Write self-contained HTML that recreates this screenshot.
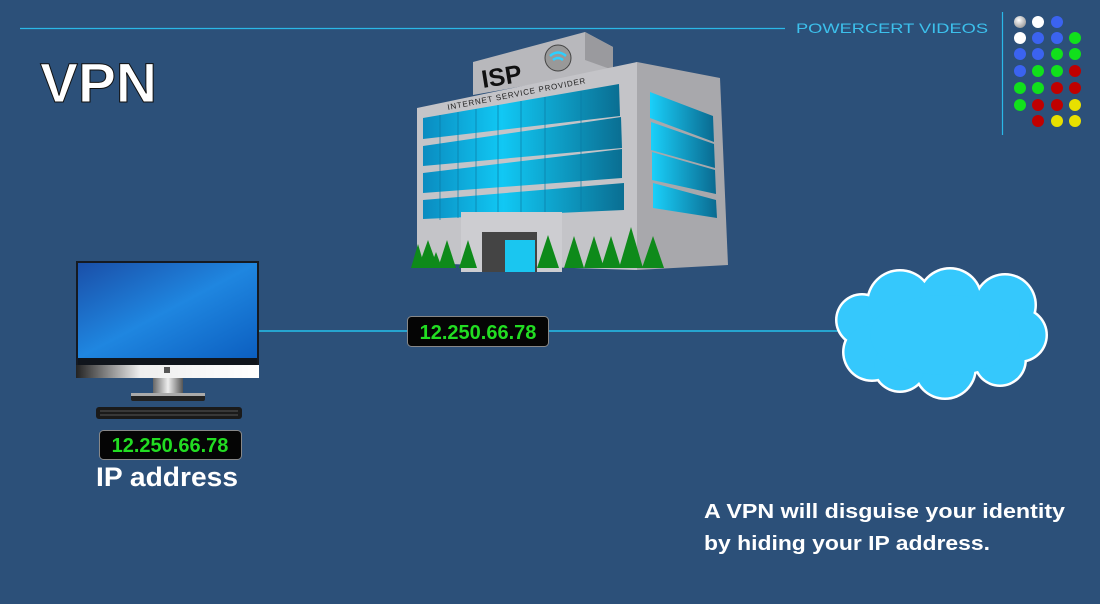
<!DOCTYPE html>
<html><head><meta charset="utf-8"><style>
html,body{margin:0;padding:0;background:#2c5079;}
svg{display:block;}
text{font-family:"Liberation Sans",Arial,sans-serif;}
</style></head><body>
<svg width="1100" height="604" viewBox="0 0 1100 604" xmlns="http://www.w3.org/2000/svg">
<defs>
<linearGradient id="scr" x1="0" y1="0" x2="1" y2="1"><stop offset="0" stop-color="#1a4fa8"/><stop offset="0.5" stop-color="#1f86e0"/><stop offset="1" stop-color="#0c5fc0"/></linearGradient>
<linearGradient id="chin" x1="0" y1="0" x2="1" y2="0"><stop offset="0" stop-color="#222"/><stop offset="0.35" stop-color="#eee"/><stop offset="1" stop-color="#fff"/></linearGradient>
<linearGradient id="win" x1="0" y1="0" x2="1" y2="0"><stop offset="0" stop-color="#0a8cc0"/><stop offset="0.4" stop-color="#11c8f4"/><stop offset="1" stop-color="#0a6e92"/></linearGradient>
<linearGradient id="winr" x1="0" y1="0" x2="1" y2="0"><stop offset="0" stop-color="#1ad0fa"/><stop offset="1" stop-color="#0a6a90"/></linearGradient>
<linearGradient id="neck" x1="0" y1="0" x2="1" y2="0"><stop offset="0" stop-color="#666"/><stop offset="0.5" stop-color="#eee"/><stop offset="1" stop-color="#555"/></linearGradient>
<radialGradient id="dg" cx="0.4" cy="0.35" r="0.7"><stop offset="0" stop-color="#fff"/><stop offset="1" stop-color="#999"/></radialGradient>
</defs>
<rect width="1100" height="604" fill="#2c5079"/>
<line x1="20" y1="28.5" x2="785" y2="28.5" stroke="#2ab8e8" stroke-width="1.2"/>
<text x="796" y="33" font-size="14" fill="#3cc0ec" textLength="192" lengthAdjust="spacingAndGlyphs">POWERCERT VIDEOS</text>
<line x1="1002.5" y1="12" x2="1002.5" y2="135" stroke="#2ab8e8" stroke-width="1.2"/>
<g>
<circle cx="1020" cy="22" r="6" fill="url(#dg)"/><circle cx="1038" cy="22" r="6" fill="#fff"/><circle cx="1057" cy="22" r="6" fill="#3b63f0"/>
<circle cx="1020" cy="38" r="6" fill="#fff"/><circle cx="1038" cy="38" r="6" fill="#3b63f0"/><circle cx="1057" cy="38" r="6" fill="#3b63f0"/><circle cx="1075" cy="38" r="6" fill="#11e01c"/>
<circle cx="1020" cy="54" r="6" fill="#3b63f0"/><circle cx="1038" cy="54" r="6" fill="#3b63f0"/><circle cx="1057" cy="54" r="6" fill="#11e01c"/><circle cx="1075" cy="54" r="6" fill="#11e01c"/>
<circle cx="1020" cy="71" r="6" fill="#3b63f0"/><circle cx="1038" cy="71" r="6" fill="#11e01c"/><circle cx="1057" cy="71" r="6" fill="#11e01c"/><circle cx="1075" cy="71" r="6" fill="#c00000"/>
<circle cx="1020" cy="88" r="6" fill="#11e01c"/><circle cx="1038" cy="88" r="6" fill="#11e01c"/><circle cx="1057" cy="88" r="6" fill="#c00000"/><circle cx="1075" cy="88" r="6" fill="#c00000"/>
<circle cx="1020" cy="105" r="6" fill="#11e01c"/><circle cx="1038" cy="105" r="6" fill="#c00000"/><circle cx="1057" cy="105" r="6" fill="#c00000"/><circle cx="1075" cy="105" r="6" fill="#e8e000"/>
<circle cx="1038" cy="121" r="6" fill="#c00000"/><circle cx="1057" cy="121" r="6" fill="#e8e000"/><circle cx="1075" cy="121" r="6" fill="#e8e000"/>
</g>
<text x="40" y="102" font-size="56" font-weight="bold" fill="#fff" stroke="#111" stroke-width="1" textLength="117" lengthAdjust="spacingAndGlyphs">VPN</text>

<!-- building -->
<polygon points="473,62 585,32 613,47 613,70 473,95" fill="#b8b8bc"/>
<polygon points="585,32 613,47 613,70 585,60" fill="#9a9a9e"/>
<text x="483" y="88" font-size="25" font-weight="bold" fill="#111" transform="rotate(-9 483 88)">ISP</text>
<circle cx="558" cy="58" r="13" fill="#999" stroke="#444" stroke-width="1"/>
<path d="M550 56 q8 -7 16 0 M553 60 q5 -4 10 0" stroke="#2dd0ff" stroke-width="2.5" fill="none"/>
<polygon points="417,108 637,62 637,270 417,263" fill="#c4c4c8"/>
<polygon points="637,62 720,78 728,265 637,270" fill="#a8a8ac"/>
<text x="448" y="110" font-size="8" fill="#222" transform="rotate(-11 448 110)" letter-spacing="0.8">INTERNET SERVICE PROVIDER</text>
<polygon points="423,118 619,84 620,116 423,139" fill="url(#win)"/>
<polygon points="423,146 621,117 622,148 423,166" fill="url(#win)"/>
<polygon points="423,173 622,149 622,178 423,193" fill="url(#win)"/>
<polygon points="423,200 624,183 624,210 423,219" fill="url(#win)"/>
<g stroke="#0a7aa4" stroke-width="1" opacity="0.7">
<line x1="440" y1="115" x2="440" y2="220"/><line x1="458" y1="112" x2="458" y2="218"/><line x1="476" y1="109" x2="476" y2="216"/><line x1="498" y1="105" x2="498" y2="215"/><line x1="521" y1="101" x2="521" y2="214"/><line x1="545" y1="97" x2="545" y2="212"/><line x1="581" y1="91" x2="581" y2="210"/>
</g>
<polygon points="650,92 713,116 714,142 650,118" fill="url(#winr)"/>
<polygon points="651,122 714,144 715,168 651,150" fill="url(#winr)"/>
<polygon points="652,152 715,170 716,194 652,180" fill="url(#winr)"/>
<polygon points="653,183 716,200 717,218 653,208" fill="url(#winr)"/>
<rect x="461" y="212" width="101" height="60" fill="#cdcdd1"/>
<rect x="482" y="232" width="55" height="40" fill="#444"/>
<rect x="505" y="240" width="30" height="32" fill="#1ac6f0"/>
<g fill="#0e8a1a">
<polygon points="418,244 411,268 425,268"/><polygon points="428,240 418,268 438,268"/><polygon points="447,240 438,268 456,268"/><polygon points="468,240 459,268 477,268"/>
<polygon points="436,252 430,268 442,268"/>
<polygon points="548,235 537,268 559,268"/><polygon points="574,236 564,268 584,268"/><polygon points="594,236 584,268 604,268"/><polygon points="611,236 601,268 621,268"/><polygon points="631,227 619,268 643,268"/><polygon points="653,236 642,268 664,268"/>
</g>

<line x1="259" y1="331" x2="840" y2="331" stroke="#25c0ec" stroke-width="1.5"/>
<rect x="407.5" y="316.5" width="141" height="30" rx="4" fill="#050505" stroke="#888" stroke-width="1"/>
<text x="478" y="339" font-size="20" font-weight="bold" fill="#22dd22" text-anchor="middle">12.250.66.78</text>

<rect x="76" y="261" width="183" height="117" fill="#151a22"/>
<rect x="78" y="263" width="179" height="95" fill="url(#scr)"/>
<rect x="78" y="358" width="179" height="7" fill="#10151c"/>
<rect x="76" y="365" width="183" height="13" fill="url(#chin)"/>
<rect x="164" y="367" width="6" height="6" fill="#555"/>
<rect x="153" y="378" width="30" height="16" fill="url(#neck)"/>
<rect x="131" y="393" width="74" height="8" rx="2" fill="#222"/>
<rect x="131" y="393" width="74" height="3" fill="#aaa"/>
<rect x="96" y="407" width="146" height="12" rx="3" fill="#1a1a1a"/>
<g stroke="#555" stroke-width="1"><line x1="100" y1="411" x2="238" y2="411"/><line x1="100" y1="415" x2="238" y2="415"/></g>
<rect x="99.5" y="430.5" width="142" height="29" rx="4" fill="#050505" stroke="#888" stroke-width="1"/>
<text x="170" y="452" font-size="20" font-weight="bold" fill="#22dd22" text-anchor="middle">12.250.66.78</text>
<text x="96" y="486" font-size="27" font-weight="bold" fill="#fff" textLength="142" lengthAdjust="spacingAndGlyphs">IP address</text>

<!-- cloud -->
<g fill="#fff">
<circle cx="862" cy="320" r="27"/><circle cx="872" cy="352" r="30"/><circle cx="900" cy="303" r="34"/><circle cx="950" cy="300" r="33"/><circle cx="1005" cy="305" r="32"/><circle cx="1020" cy="335" r="28"/><circle cx="1000" cy="360" r="27"/><circle cx="945" cy="368" r="32"/><circle cx="900" cy="365" r="28"/>
</g>
<g fill="#35c8fc">
<circle cx="862" cy="320" r="24.5"/><circle cx="872" cy="352" r="27.5"/><circle cx="900" cy="303" r="31.5"/><circle cx="950" cy="300" r="30.5"/><circle cx="1005" cy="305" r="29.5"/><circle cx="1020" cy="335" r="25.5"/><circle cx="1000" cy="360" r="24.5"/><circle cx="945" cy="368" r="29.5"/><circle cx="900" cy="365" r="25.5"/>
<ellipse cx="945" cy="335" rx="75" ry="40"/>
</g>

<text x="704" y="518" font-size="20" font-weight="bold" fill="#fff" textLength="361" lengthAdjust="spacingAndGlyphs">A VPN will disguise your identity</text>
<text x="704" y="550" font-size="20" font-weight="bold" fill="#fff" textLength="286" lengthAdjust="spacingAndGlyphs">by hiding your IP address.</text>
</svg>
</body></html>
